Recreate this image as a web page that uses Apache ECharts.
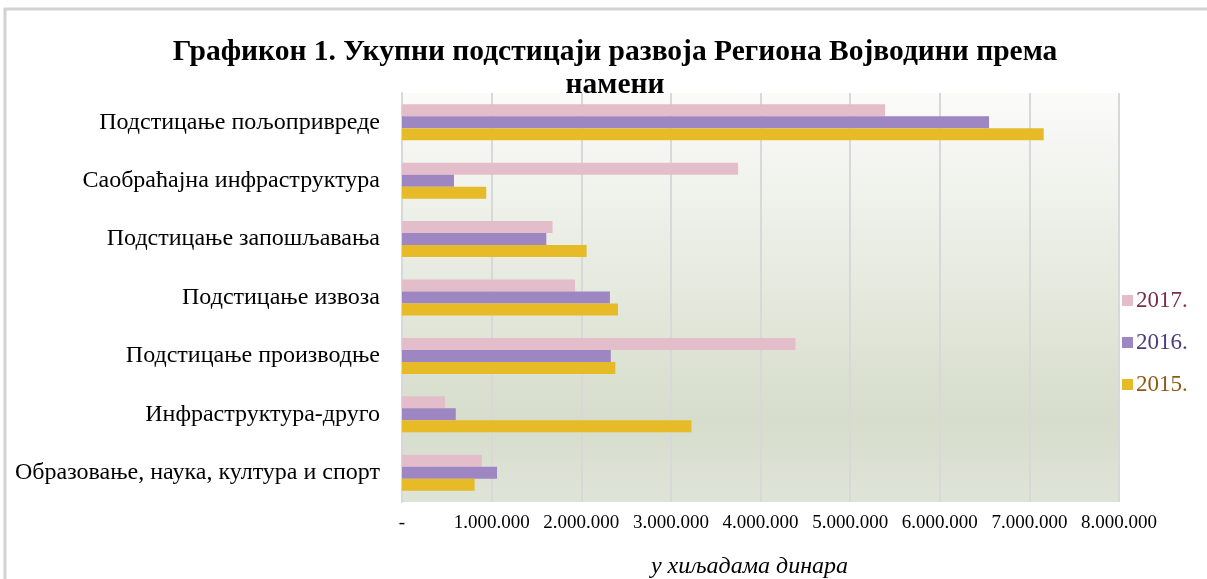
<!DOCTYPE html>
<html>
<head>
<meta charset="utf-8">
<script src="https://cdn.jsdelivr.net/npm/echarts@6/dist/echarts.min.js"></script>
<style>
  html, body { margin: 0; padding: 0; background: #fff; }
  #chart { width: 1207px; height: 579px; }
</style>
</head>
<body>
<div id="chart"></div>
<script>
// категорије (одозго надоле)
const categories = [
  "Подстицање пољопривреде",
  "Саобраћајна инфраструктура",
  "Подстицање запошљавања",
  "Подстицање извоза",
  "Подстицање производње",
  "Инфраструктура-друго",
  "Образовање, наука, култура и спорт"
];
const years = ["2017.", "2016.", "2015."];
// у хиљадама динара
const values2017 = [5390000, 3750000, 1680000, 1930000, 4390000, 480000, 890000];
const values2016 = [6550000, 580000, 1610000, 2320000, 2330000, 600000, 1060000];
const values2015 = [7160000, 940000, 2060000, 2410000, 2380000, 3230000, 810000];
const axisMax = 8000000;
const axisStep = 1000000;

const barColors = ["#e3bdc9", "#9e86c2", "#e6bb27"];
const legendColors = ["#7a2f48", "#4b3d7c", "#8c5a16"];

const fmt = (v) => v === 0 ? "-" : String(v).replace(/\B(?=(\d{3})+(?!\d))/g, ".");

const chart = echarts.init(document.getElementById("chart"));

const serif = "'Liberation Serif', 'DejaVu Serif', serif";

const option = {
  animation: false,
  textStyle: { fontFamily: serif },
  graphic: [{
    type: "rect",
    shape: { x: 5, y: 9, width: 1215, height: 590 },
    style: { fill: "none", stroke: "#d2d2d2", lineWidth: 3 },
    z: -10
  }],
  title: {
    text: "Графикон 1. Укупни подстицаји развоја Региона Војводини према\nнамени",
    left: 610,
    top: 31,
    textAlign: "center",
    textStyle: {
      fontFamily: serif,
      fontSize: 29.5,
      fontWeight: "bold",
      color: "#000",
      lineHeight: 33
    },
    z: 10
  },
  legend: {
    orient: "vertical",
    left: 1117,
    top: 284,
    itemWidth: 11,
    itemHeight: 11,
    itemGap: 19,
    icon: "rect",
    data: years.map((y, i) => ({ name: y, textStyle: { color: legendColors[i] } })),
    textStyle: { fontFamily: serif, fontSize: 23, padding: [0, 0, 0, -2] }
  },
  grid: {
    left: 402,
    right: 88,
    top: 93,
    bottom: 77,
    outerBoundsMode: "none",
    containLabel: false,
    show: true,
    borderWidth: 0,
    backgroundColor: new echarts.graphic.LinearGradient(0, 0, 0, 1, [
      { offset: 0, color: "#fbfbfa" },
      { offset: 0.8, color: "#d6ddcb" },
      { offset: 1, color: "#dfe4d9" }
    ])
  },
  xAxis: {
    type: "value",
    min: 0,
    max: axisMax,
    interval: axisStep,
    name: "у хиљадама динара",
    nameLocation: "middle",
    nameGap: 53,
    nameTextStyle: { fontFamily: serif, fontSize: 24, fontStyle: "italic", color: "#000", padding: [0, 22, 0, 0] },
    axisLine: { show: false },
    axisTick: { show: false },
    axisLabel: { formatter: fmt, fontFamily: serif, fontSize: 19, color: "#000", margin: 12 },
    splitLine: { show: true, lineStyle: { color: "#d8d8d8", width: 2 } }
  },
  yAxis: {
    type: "category",
    inverse: true,
    data: categories,
    axisLine: { show: true, lineStyle: { color: "#d8d8d8", width: 2 } },
    axisTick: { show: false },
    axisLabel: { fontFamily: serif, fontSize: 24, color: "#000", margin: 22, padding: [6, 0, 0, 0] }
  },
  series: [values2017, values2016, values2015].map((d, i) => ({
    name: years[i],
    type: "bar",
    data: d,
    barWidth: 12,
    barGap: "0%",
    itemStyle: { color: barColors[i] }
  }))
};

chart.setOption(option);
</script>
</body>
</html>
